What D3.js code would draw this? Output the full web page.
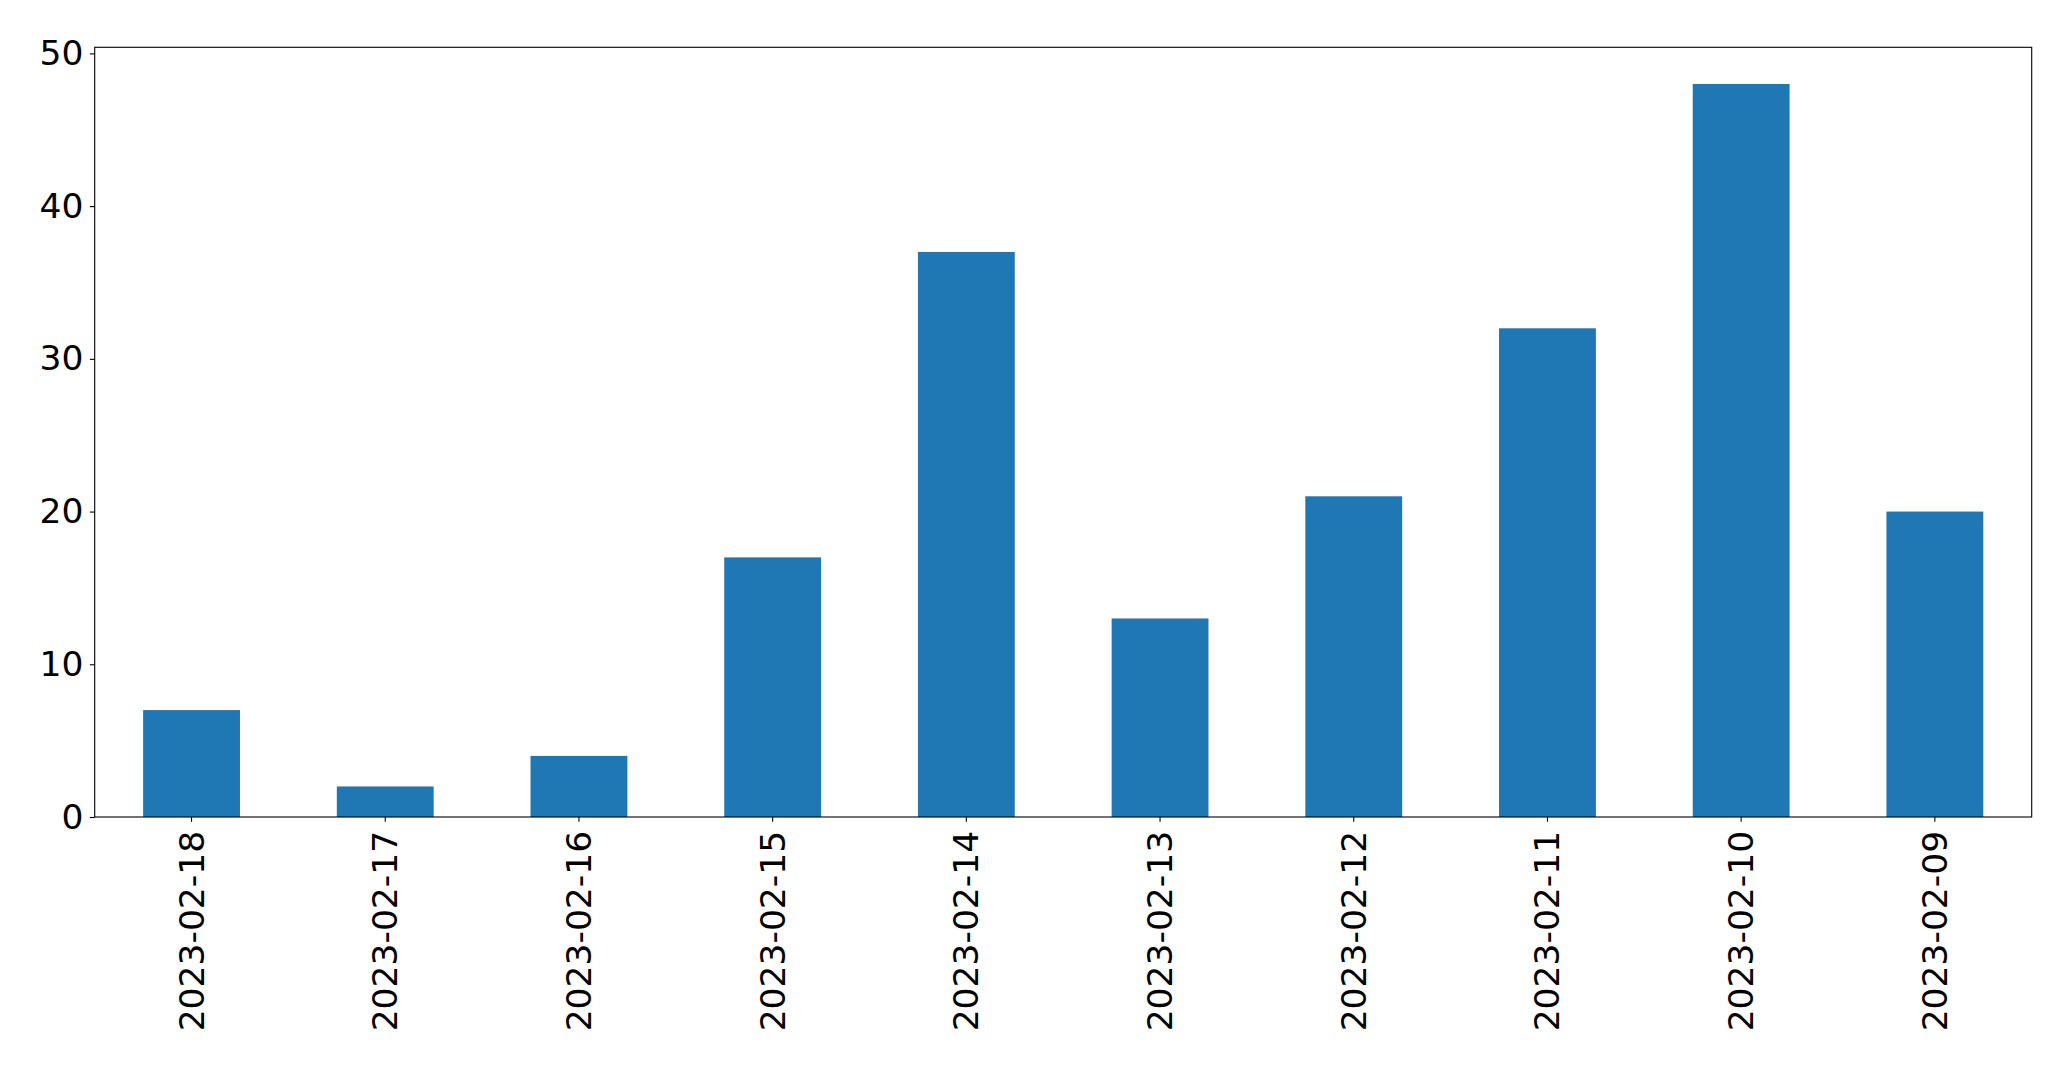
<!DOCTYPE html>
<html><head><meta charset="utf-8">
<script src="https://cdn.jsdelivr.net/npm/d3@7"></script>
<style>html,body{margin:0;padding:0;background:#fff;}svg{display:block;}</style>
</head><body>
<script>
const categories = ["2023-02-18","2023-02-17","2023-02-16","2023-02-15","2023-02-14","2023-02-13","2023-02-12","2023-02-11","2023-02-10","2023-02-09"];
const values = [7, 2, 4, 17, 37, 13, 21, 32, 48, 20];
const yTicks = [0, 10, 20, 30, 40, 50];

const W = 2071, H = 1069;
const m = {left: 94.7, top: 47.3, right: 2071 - 2031.7, bottom: 1069 - 817};
const iw = W - m.left - m.right, ih = H - m.top - m.bottom;
const fontSize = 34.5;

const svg = d3.select("body").append("svg").attr("width", W).attr("height", H);
const g = svg.append("g").attr("transform", `translate(${m.left},${m.top})`);

const x = d3.scaleBand().domain(categories).range([0, iw]).paddingInner(0.5).paddingOuter(0.25);
const y = d3.scaleLinear().domain([0, d3.max(values) * 1.05]).range([ih, 0]);

g.selectAll("rect.bar").data(values).enter().append("rect")
  .attr("class", "bar")
  .attr("x", (d, i) => x(categories[i]))
  .attr("width", x.bandwidth())
  .attr("y", d => y(d))
  .attr("height", d => y(0) - y(d))
  .attr("fill", "#1f77b4");

const tickLen = 4.86;

const yAxis = g.append("g").call(d3.axisLeft(y).tickValues(yTicks).tickSize(tickLen).tickPadding(6.4).tickFormat(d3.format("d")));
yAxis.select(".domain").remove();
yAxis.selectAll("text").attr("font-family", "DejaVu Sans").attr("font-size", fontSize).attr("fill", "#000");
yAxis.selectAll("line").attr("stroke", "#000").attr("stroke-width", 1.1);

const xAxis = g.append("g").attr("transform", `translate(0,${ih})`)
  .call(d3.axisBottom(x).tickSize(tickLen).tickPadding(9));
xAxis.select(".domain").remove();
xAxis.selectAll("line").attr("stroke", "#000").attr("stroke-width", 1.1);
xAxis.selectAll("text")
  .attr("font-family", "DejaVu Sans").attr("font-size", fontSize).attr("fill", "#000")
  .attr("text-anchor", "end")
  .attr("dy", null)
  .attr("y", 0).attr("x", 0)
  .attr("dominant-baseline", "central")
  .attr("transform", `translate(0,${tickLen + 9}) rotate(-90)`);

g.append("rect").attr("x", 0).attr("y", 0).attr("width", iw).attr("height", ih)
  .attr("fill", "none").attr("stroke", "#000").attr("stroke-width", 1.1);
</script>
</body></html>
